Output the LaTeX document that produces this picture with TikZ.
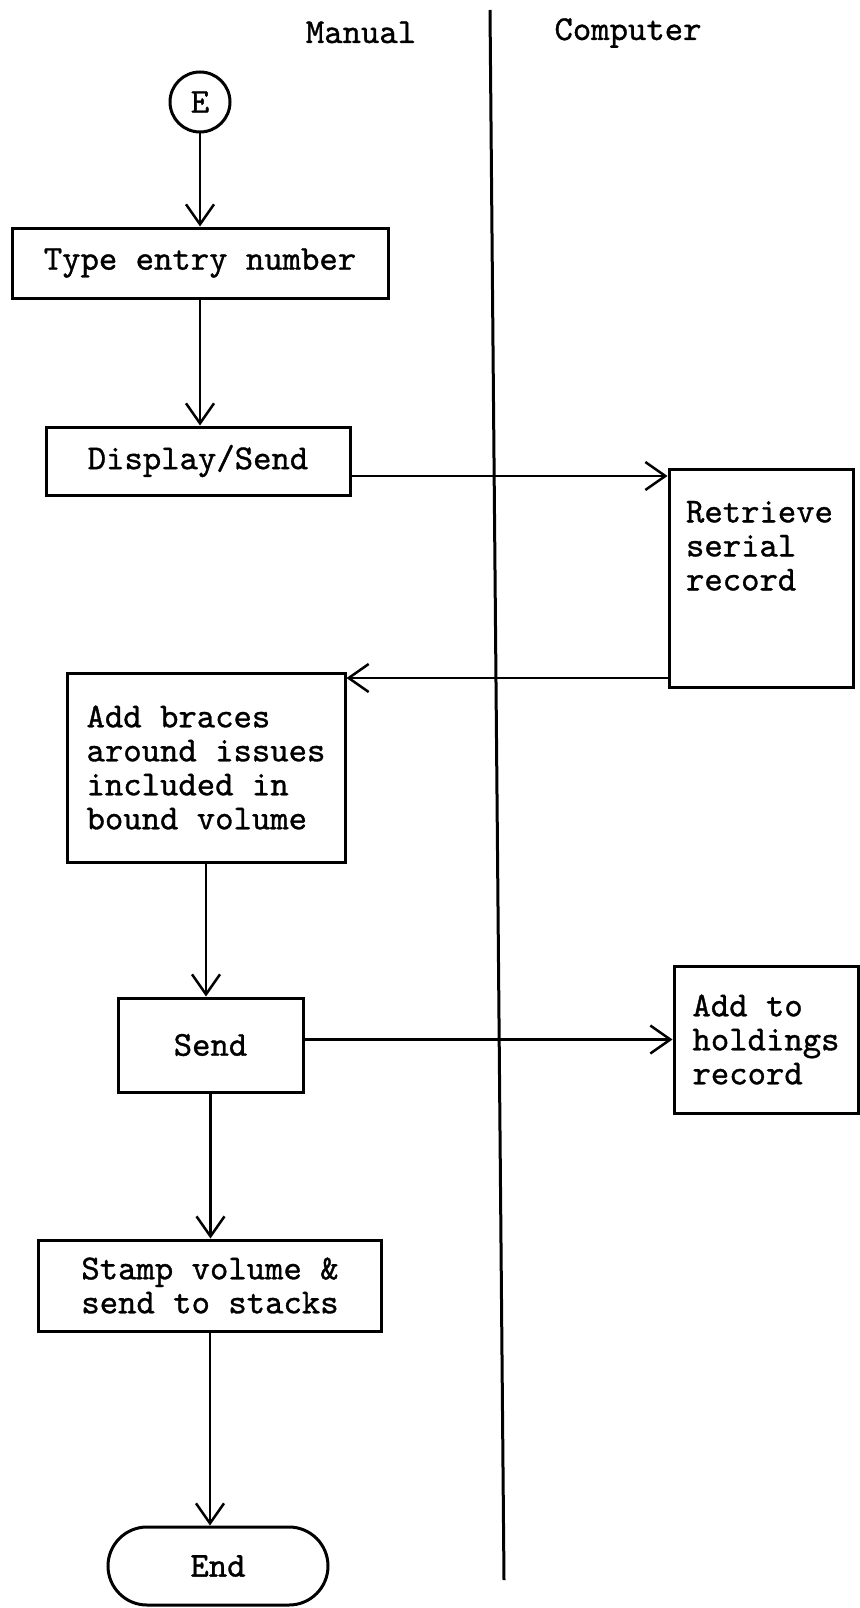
\documentclass[tikz,border=0pt]{standalone}
\usepackage{fontspec}
\newfontfamily\typefont{lmmono10-regular.otf}[FakeBold=1]
\usetikzlibrary{arrows.meta}
\begin{document}
\begin{tikzpicture}[x=1pt,y=-1pt,
  every node/.style={font=\typefont\fontsize{35}{34}\selectfont},
  proc/.style={draw,rectangle,line width=3pt,inner sep=0pt,align=left},
  arr/.style={line width=2.5pt,-{Straight Barb[length=20pt,width=28pt,line width=2.5pt]}}]
\path[use as bounding box] (0,0) rectangle (859,1608);
\coordinate (divtop) at (490,10);
\coordinate (divbot) at (504,1580);
\draw[line width=3pt] (divtop) -- (divbot);
\node[anchor=base] (manual) at (361,43) {Manual};
\node[anchor=base] (computer) at (628,40) {Computer};
\node[draw,circle,line width=3pt,minimum size=60pt,inner sep=0pt] (e) at (200,102) {E};
\node[proc,minimum width=376pt,minimum height=70pt] (type) at (200,263) {Type entry number};
\node[proc,minimum width=304pt,minimum height=68pt] (disp) at (198,461) {Display/Send};
\node[proc,minimum width=184pt,minimum height=218pt] (ret) at (761,578) {\parbox[c][154pt][t]{150pt}{\raggedright Retrieve\\serial\\record}};
\node[proc,minimum width=278pt,minimum height=189pt] (add) at (206,767.5) {Add braces\\around issues\\included in\\bound volume};
\node[proc,minimum width=185pt,minimum height=94pt] (send) at (210.5,1045) {Send};
\node[proc,minimum width=184pt,minimum height=147pt] (hold) at (766,1039.5) {Add to\\holdings\\record};
\node[proc,minimum width=343pt,minimum height=91pt] (stamp) at (210,1285.5) {Stamp volume \&\\send to stacks};
\node[proc,rounded corners=39pt,minimum width=220pt,minimum height=78pt] (fin) at (218,1566) {End};
\draw[arr] (e) -- (type);
\draw[arr] (type.south) -- (type.south |- disp.north);
\draw[arr] ([yshift=-15pt]disp.east) -- ([yshift=-15pt]disp.east -| ret.west);
\draw[arr] ([yshift=-100pt]ret.west) -- ([yshift=-100pt]ret.west -| add.east);
\draw[arr] (add.south) -- (add.south |- send.north);
\draw[arr] (send.east |- hold.west) -- (hold.west);
\draw[arr] (send.south) -- (send.south |- stamp.north);
\draw[arr] (stamp.south) -- (stamp.south |- fin.north);
\end{tikzpicture}
\end{document}
